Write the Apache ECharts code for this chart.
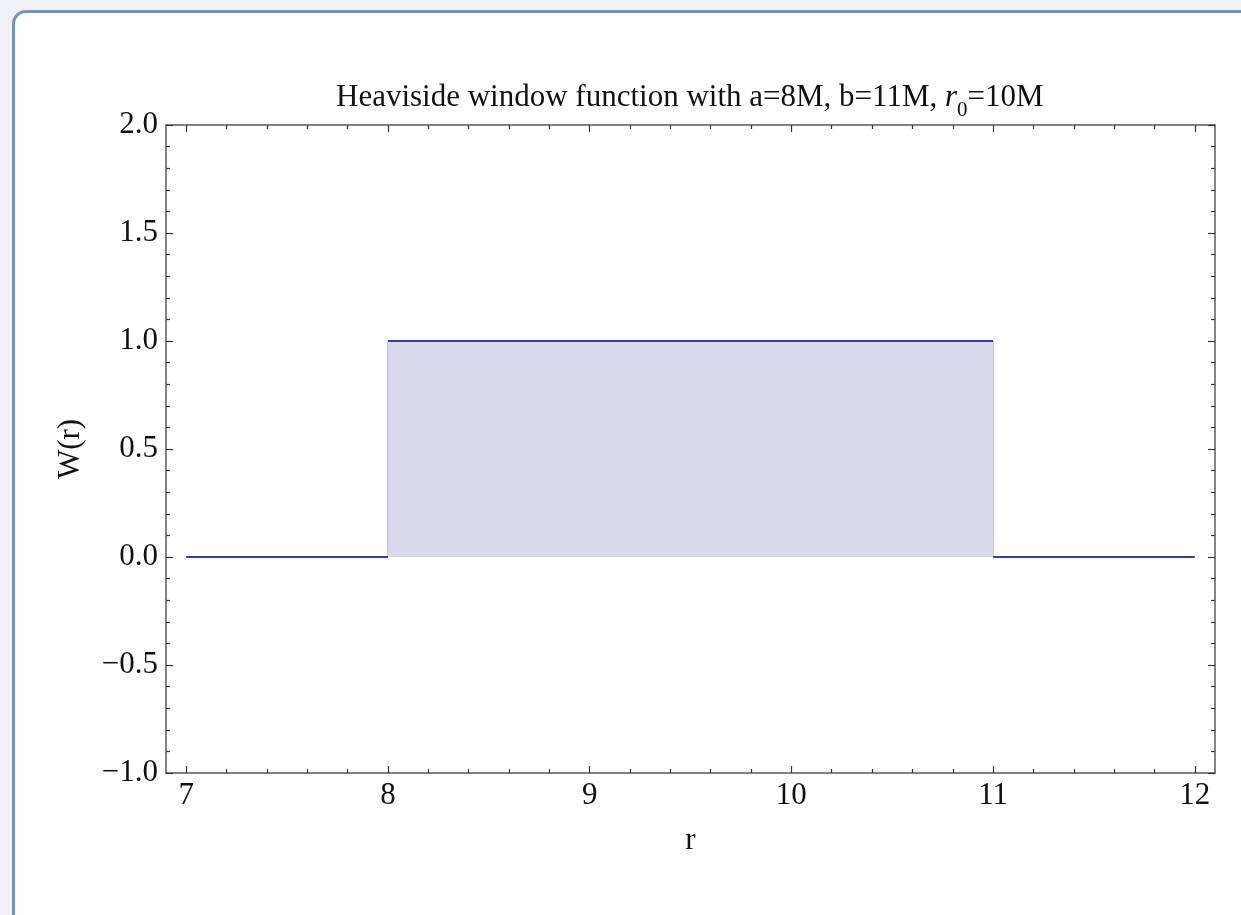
<!DOCTYPE html>
<html>
<head>
<meta charset="utf-8">
<script src="https://cdn.jsdelivr.net/npm/echarts@6/dist/echarts.min.js"></script>
<style>
  html, body { margin:0; padding:0; width:1241px; height:915px; overflow:hidden; background:#eef0f4; }
  #card { position:absolute; left:12px; top:10px; width:1270px; height:960px; background:#fff;
          border:3px solid #7196be; border-radius:14px; box-sizing:border-box; }
  #chart { position:absolute; left:0; top:0; width:1241px; height:915px; }
</style>
</head>
<body>
<div id="card"></div>
<div id="chart"></div>
<script>
// ---- data ----
const xMajorTicks = [7, 8, 9, 10, 11, 12];
const yMajorTicks = [-1.0, -0.5, 0.0, 0.5, 1.0, 1.5, 2.0];
const lowLeft  = [[7, 0], [8, 0]];
const plateau  = [[8, 1], [11, 1]];
const lowRight = [[11, 0], [12, 0]];
const edgeA    = [[8, 0], [8, 1]];
const edgeB    = [[11, 0], [11, 1]];
const titleParts = ['Heaviside window function with a=8M, b=11M, ', 'r', '0', '=10M'];
const xName = 'r';
const yName = 'W(r)';

// minor tick positions (axis decoration only)
const xMinorTicks = [];
for (let i = 0; i < xMajorTicks.length - 1; i++) for (let k = 1; k < 5; k++) xMinorTicks.push(+(xMajorTicks[i] + k * 0.2).toFixed(2));
const yMinorTicks = [];
for (let i = 0; i < yMajorTicks.length - 1; i++) for (let k = 1; k < 5; k++) yMinorTicks.push(+(yMajorTicks[i] + k * 0.1).toFixed(2));

const FONT = '"Liberation Serif", "DejaVu Serif", serif';
const frameColor = '#5a5a5a';
const tickColor = '#333';
const xMin = 6.9, xMax = 12.1, yMin = -1, yMax = 2;

function xAx(pos, ticks, len, labels, lineShow) {
  return {
    type: 'value', position: pos, min: xMin, max: xMax,
    axisLine: { show: lineShow, onZero: false, lineStyle: { color: frameColor, width: 1.5 } },
    axisTick: { show: true, inside: true, length: len, customValues: ticks, lineStyle: { color: tickColor, width: 1.2 } },
    axisLabel: labels ? { show: true, customValues: ticks, fontFamily: FONT, fontSize: 31, color: '#111', margin: 7,
                          formatter: v => String(v) } : { show: false },
    splitLine: { show: false }
  };
}
function yAx(pos, ticks, len, labels, lineShow) {
  return {
    type: 'value', position: pos, min: yMin, max: yMax,
    axisLine: { show: lineShow, onZero: false, lineStyle: { color: frameColor, width: 1.5 } },
    axisTick: { show: true, inside: true, length: len, customValues: ticks, lineStyle: { color: tickColor, width: 1.2 } },
    axisLabel: labels ? { show: true, customValues: ticks, fontFamily: FONT, fontSize: 31, color: '#111', margin: 8,
                          formatter: v => (v < 0 ? '\u2212' + Math.abs(v).toFixed(1) : v.toFixed(1)) } : { show: false },
    splitLine: { show: false }
  };
}

const xAxes = [
  xAx('bottom', xMajorTicks, 7, true, true),
  xAx('bottom', xMinorTicks, 4, false, false),
  xAx('top', xMajorTicks, 7, false, true),
  xAx('top', xMinorTicks, 4, false, false)
];
Object.assign(xAxes[0], { name: xName, nameLocation: 'middle', nameGap: 52,
  nameTextStyle: { fontFamily: FONT, fontSize: 31, color: '#111' } });
const yAxes = [
  yAx('left', yMajorTicks, 7, true, true),
  yAx('left', yMinorTicks, 4, false, false),
  yAx('right', yMajorTicks, 7, false, true),
  yAx('right', yMinorTicks, 4, false, false)
];
Object.assign(yAxes[0], { name: yName, nameLocation: 'middle', nameGap: 80, nameRotate: 90,
  nameTextStyle: { fontFamily: FONT, fontSize: 31, color: '#111' } });

const lineColor = '#3c3c9a';
function seg(data, color, width, z) {
  return { type: 'line', data: data, xAxisIndex: 0, yAxisIndex: 0, symbol: 'none', silent: true, z: z,
           lineStyle: { color: color, width: width }, animation: false };
}

const chart = echarts.init(document.getElementById('chart'), null, { renderer: 'canvas' });
chart.setOption({
  backgroundColor: 'transparent',
  animation: false,
  title: {
    text: '{a|' + titleParts[0] + '}{i|' + titleParts[1] + '}{s|' + titleParts[2] + '}{a|' + titleParts[3] + '}',
    left: 331, top: 68,
    textStyle: {
      fontWeight: 'normal',
      rich: {
        a: { fontFamily: FONT, fontSize: 31, fontWeight: 'normal', color: '#111', lineHeight: 40, verticalAlign: 'bottom' },
        i: { fontFamily: FONT, fontSize: 31, fontWeight: 'normal', fontStyle: 'italic', color: '#111', lineHeight: 40, verticalAlign: 'bottom' },
        s: { fontFamily: FONT, fontSize: 21, fontWeight: 'normal', color: '#111', lineHeight: 40, verticalAlign: 'bottom', padding: [0, 0, -8, 0] }
      }
    }
  },
  grid: { left: 166, top: 125, width: 1049, height: 648, containLabel: false },
  xAxis: xAxes,
  yAxis: yAxes,
  series: [
    Object.assign(seg(plateau, lineColor, 2, 5), { areaStyle: { origin: 0, color: '#d9d9eb', opacity: 1 } }),
    seg(edgeA, '#c3c3e2', 2, 3),
    seg(edgeB, '#c3c3e2', 2, 3),
    seg(lowLeft, lineColor, 2, 5),
    seg(lowRight, lineColor, 2, 5)
  ]
});
</script>
</body>
</html>
